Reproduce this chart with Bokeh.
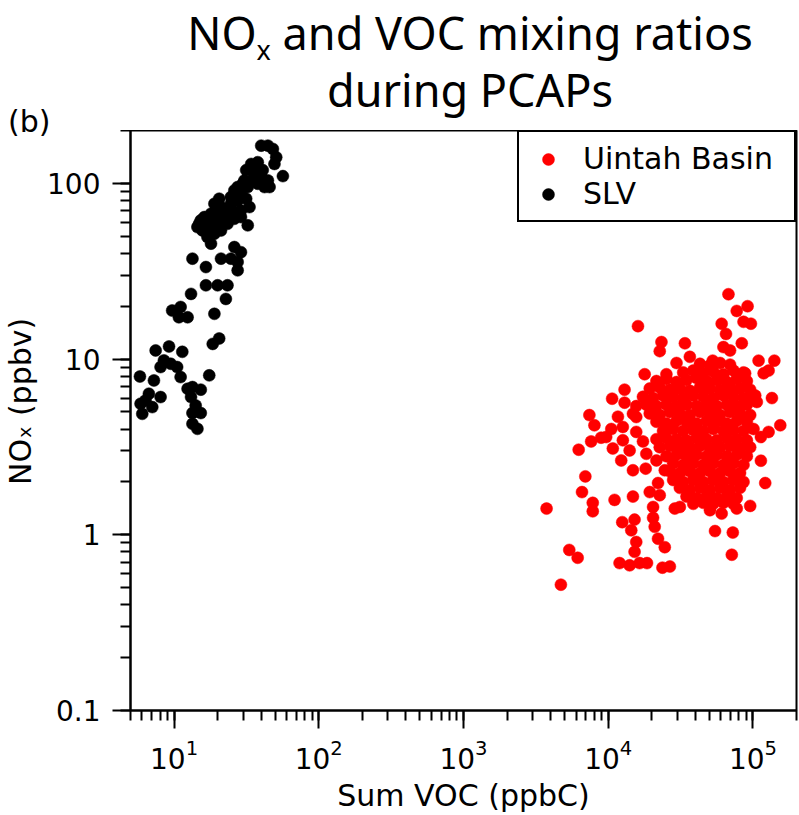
from bokeh.plotting import figure
from bokeh.layouts import column
from bokeh.models import (Range1d, Legend, LegendItem, CustomJSTickFormatter,
                          ColumnDataSource, Div)
from bokeh.embed import file_html
from bokeh.resources import INLINE

# ---------------- data ----------------
slv_voc = [40.0, 44.5, 48.2, 50.8, 49.4, 56.5, 37.9, 34.1, 31.5, 35.9, 40.0, 44.5, 42.2, 45.7,
           30.6, 32.3, 29.0, 27.5, 31.5, 33.2, 29.0, 26.1, 24.7, 20.5, 23.4, 22.2, 20.0, 18.0,
           16.2, 15.3, 14.5, 16.2, 18.0, 20.0, 17.0, 18.0, 15.7, 32.3, 26.1, 29.0, 27.5, 24.7,
           21.1, 13.4, 16.6, 27.5, 16.6, 20.0, 23.4, 22.8, 13.1, 9.7, 11.1, 10.8, 12.4, 19.0,
           18.5, 20.5, 7.46, 9.23, 11.4, 8.51, 9.48, 8.07, 10.5, 11.1, 7.26, 5.81, 17.5, 12.4,
           13.4, 15.3, 13.1, 14.1, 15.3, 13.4, 14.5, 6.70, 6.35, 5.87, 6.03, 7.07, 8.07, 13.4,
           19.0, 21.1, 24.7, 26.1, 27.5, 29.8, 34.1, 35.9, 37.9, 41.0, 22.8, 20.5, 18.5, 16.6,
           14.9, 17.5, 19.0, 21.1, 23.4, 26.1, 29.0]
slv_nox = [164, 164, 157, 141, 129, 110, 132, 129, 119, 114, 109, 104, 95.3, 95.3,
           104, 95.3, 87.3, 80.0, 81.8, 73.3, 70.2, 68.7, 76.6, 81.8, 70.2, 64.3, 70.2, 67.2,
           64.3, 61.6, 56.4, 54.0, 56.4, 58.9, 49.5, 45.4, 54.0, 57.7, 43.4, 40.6, 35.7, 37.3,
           37.3, 37.3, 33.4, 32.0, 26.3, 26.3, 26.3, 22.0, 23.5, 18.9, 19.8, 17.3, 17.3, 18.1,
           12.2, 13.1, 11.2, 11.8, 11.0, 9.83, 9.41, 9.01, 9.01, 7.90, 7.56, 7.96, 8.08, 6.78,
           6.93, 6.70, 6.08, 5.45, 4.93, 4.28, 4.01, 6.35, 5.82, 5.57, 4.88, 5.33, 6.08, 4.93,
           76.6, 73.3, 83.6, 91.2, 95.3, 99.5, 104, 121, 99.5, 119, 67.2, 62.9, 60.2, 58.9,
           58.9, 54.0, 51.7, 54.0, 58.9, 62.9, 64.3]

uintah_voc = [
    # scattered points around the cloud
    67750, 77270, 91830, 86100, 96830, 60810, 65160, 16060, 83750, 23330, 22700, 33880,
    62520, 69500, 109400, 140600, 118600, 128300, 88310, 52720, 36650, 29650, 17860, 25240,
    12970, 10640, 12970, 135300, 103700, 106400, 154500, 128300, 113500, 7410, 8030, 11670,
    10500, 9680, 7620, 6250, 15620, 17380, 12620, 10760, 12300, 14820, 18150, 24600,
    113500, 121600, 95720, 6950, 6590, 7820, 7820, 11060, 14820, 19360, 22700, 22090,
    28840, 31260, 20420, 20420, 20950, 12500, 15210, 14430, 15620, 15210, 22090, 24600,
    11980, 14060, 16480, 18540, 23700, 26670, 54700, 72600, 71450, 5380, 6150, 4710,
    3750, 50470, 60810, 77270, 15620, 14820, 14060, 18340, 21530, 12620, 8930,
    # dense core
    43050, 50470, 59290, 69500,
    32960, 38700, 45400, 53210, 62520, 73280, 86100,
    21530, 25240, 29650, 34750, 40830, 47860, 56200, 65920, 77270, 90780,
    19360, 22700, 26670, 31260, 36650, 43050, 50470, 59290, 69500, 81470, 95720,
    17380, 20420, 23930, 28100, 32960, 38700, 45400, 53210, 62520, 73280, 86100, 100900,
    15620, 18340, 21530, 25240, 29650, 34750, 40830, 47860, 56200, 65920, 77270, 90780,
    19360, 22700, 26670, 31260, 36650, 43050, 50470, 59290, 69500, 81470, 95720,
    21530, 25240, 29650, 34750, 40830, 47860, 56200, 65920, 77270, 90780,
    23930, 28100, 32960, 38700, 45400, 53210, 62520, 73280, 86100, 100900,
    21530, 25240, 29650, 34750, 40830, 47860, 56200, 65920, 77270, 90780,
    22700, 26670, 31260, 36650, 43050, 50470, 59290, 69500, 81470, 95720,
    25240, 29650, 34750, 40830, 47860, 56200, 65920, 77270, 90780,
    28100, 32960, 38700, 45400, 53210, 62520, 73280, 86100,
    26670, 31260, 36650, 43050, 50470, 59290, 69500, 81470,
    28100, 32960, 38700, 45400, 53210, 62520, 73280, 86100,
    31260, 36650, 43050, 50470, 59290, 69500, 81470,
    34750, 40830, 47860, 56200, 65920, 77270,
    38700, 45400, 53210, 62520, 73280,
]
uintah_nox = [
    23.4, 18.8, 20.0, 16.3, 15.9, 15.9, 13.9, 15.4, 12.3, 12.5, 11.1, 12.3,
    11.7, 11.2, 9.8, 9.8, 8.3, 8.6, 8.3, 9.8, 10.3, 9.5, 8.2, 8.2,
    6.7, 5.95, 5.65, 6.0, 6.2, 5.7, 4.2, 3.85, 3.6, 4.8, 4.2, 4.7,
    4.0, 3.6, 3.4, 3.05, 3.85, 3.4, 3.45, 3.1, 2.65, 2.33, 2.38, 2.33,
    2.64, 1.97, 1.46, 2.15, 1.75, 1.52, 1.36, 1.58, 1.65, 1.75, 1.68, 1.97,
    1.41, 1.44, 1.44, 1.25, 1.11, 1.18, 1.22, 1.06, 0.91, 0.80, 0.95, 0.85,
    0.69, 0.67, 0.69, 0.69, 0.65, 0.66, 1.05, 1.03, 0.77, 0.82, 0.74, 0.52,
    1.41, 1.38, 1.32, 1.41, 4.68, 4.89, 3.02, 2.89, 2.65, 4.11, 3.57,
    9.4, 9.2, 9.5, 9.3,
    8.4, 8.6, 8.3, 8.5, 8.2, 8.6, 8.4,
    7.5, 7.7, 7.4, 7.6, 7.8, 7.5, 7.6, 7.4, 7.7, 7.5,
    6.8, 6.9, 6.7, 6.8, 6.6, 6.9, 6.8, 6.7, 6.9, 6.8, 6.7,
    6.1, 6.0, 6.2, 6.1, 6.0, 6.2, 6.1, 6.0, 6.2, 6.1, 6.0, 6.1,
    5.4, 5.5, 5.4, 5.5, 5.4, 5.5, 5.4, 5.5, 5.4, 5.5, 5.4, 5.5,
    4.9, 4.8, 5.0, 4.9, 4.8, 5.0, 4.9, 4.8, 5.0, 4.9, 4.8,
    4.4, 4.3, 4.45, 4.4, 4.3, 4.45, 4.4, 4.3, 4.45, 4.4,
    3.9, 4.0, 3.9, 3.95, 3.9, 4.0, 3.9, 3.95, 3.9, 4.0,
    3.5, 3.55, 3.5, 3.45, 3.55, 3.5, 3.45, 3.55, 3.5, 3.45,
    3.15, 3.2, 3.1, 3.15, 3.2, 3.1, 3.15, 3.2, 3.1, 3.15,
    2.8, 2.85, 2.8, 2.85, 2.8, 2.85, 2.8, 2.85, 2.8,
    2.55, 2.5, 2.55, 2.5, 2.55, 2.5, 2.55, 2.5,
    2.3, 2.25, 2.3, 2.25, 2.3, 2.25, 2.3, 2.25,
    2.05, 2.0, 2.05, 2.0, 2.05, 2.0, 2.05, 2.0,
    1.85, 1.8, 1.85, 1.8, 1.85, 1.8, 1.85,
    1.65, 1.62, 1.65, 1.62, 1.65, 1.62,
    1.5, 1.52, 1.5, 1.52, 1.5,
]

series_names = ["Uintah Basin", "SLV"]
series_colors = ["#ff0000", "#000000"]

x_label = "Sum VOC (ppbC)"
y_label = "\u00a0\u00a0\u00a0\u00a0NO\u2093 (ppbv)"
title_line1 = ("NO", "x", " and VOC mixing ratios")
title_line2 = "during PCAPs"
panel_tag = "(b)"

# ---------------- title block (HTML, for the subscript) ----------------
title_html = (
    '<div style="position:relative;width:799px;height:130px;color:black;overflow:visible;">'
    '<div style="position:absolute;left:141px;top:8px;width:658px;text-align:center;'
    'font-family:\'Noto Sans\';font-size:45px;line-height:50px;white-space:nowrap;">'
    f'{title_line1[0]}<span style="font-size:27px;position:relative;top:10px;">{title_line1[1]}</span>'
    f'{title_line1[2]}<br>{title_line2}</div>'
    '<div style="position:absolute;left:8px;top:107px;font-family:\'DejaVu Sans\';'
    f'font-size:30px;line-height:30px;white-space:nowrap;">{panel_tag}</div>'
    '</div>'
)
title_div = Div(text=title_html, width=799, height=130, margin=(0, 0, 0, 0),
                styles={"overflow": "visible", "z-index": "10", "position": "relative"})

# ---------------- figure ----------------
p = figure(width=799, height=685, x_axis_type="log", y_axis_type="log",
           x_range=Range1d(5, 2e5), y_range=Range1d(0.1, 200),
           output_backend="svg", toolbar_location=None,
           min_border_left=130, min_border_right=3, min_border_top=0, min_border_bottom=105)
p.margin = (0, 0, 0, 0)
p.background_fill_color = "white"
p.border_fill_color = "white"
p.outline_line_color = "black"
p.outline_line_width = 2
p.xgrid.grid_line_color = None
p.ygrid.grid_line_color = None

src_u = ColumnDataSource(dict(x=uintah_voc, y=uintah_nox))
src_s = ColumnDataSource(dict(x=slv_voc, y=slv_nox))
r_u = p.scatter("x", "y", source=src_u, size=12, fill_color=series_colors[0],
                line_color=series_colors[0], line_width=0.5)
r_s = p.scatter("x", "y", source=src_s, size=12, fill_color=series_colors[1],
                line_color=series_colors[1], line_width=0.5)

for ax in (p.xaxis[0], p.yaxis[0]):
    ax.axis_line_width = 2
    ax.axis_line_color = "black"
    ax.major_tick_line_width = 2
    ax.minor_tick_line_width = 2
    ax.major_tick_line_color = "black"
    ax.minor_tick_line_color = "black"
    ax.major_tick_out = 18
    ax.major_tick_in = 0
    ax.minor_tick_out = 10
    ax.minor_tick_in = 0
    ax.major_label_text_font = "DejaVu Sans"
    ax.major_label_text_font_size = "28px"
    ax.major_label_text_color = "black"
    ax.axis_label_text_font = "DejaVu Sans"
    ax.axis_label_text_font_size = "30px"
    ax.axis_label_text_font_style = "normal"
    ax.axis_label_text_color = "black"

p.xaxis.axis_label = x_label
p.yaxis.axis_label = y_label
p.xaxis.major_label_standoff = 10
p.yaxis.major_label_standoff = 12
p.xaxis.axis_label_standoff = 6
p.yaxis.axis_label_standoff = 6
p.yaxis.formatter = CustomJSTickFormatter(code="return tick < 1 ? tick.toFixed(1) : tick.toFixed(0);")

legend = Legend(items=[LegendItem(label=series_names[0], renderers=[r_u]),
                       LegendItem(label=series_names[1], renderers=[r_s])],
                location="top_right")
legend.margin = 0
legend.padding = 9
legend.spacing = 0
legend.border_line_color = "black"
legend.border_line_alpha = 1
legend.border_line_width = 2
legend.label_text_font = "DejaVu Sans"
legend.label_text_font_size = "30px"
legend.label_text_color = "black"
legend.label_standoff = 15
legend.glyph_width = 40
legend.glyph_height = 30
legend.label_height = 30
legend.label_width = 202
legend.background_fill_alpha = 1
p.add_layout(legend, "center")

layout = column(title_div, p, spacing=0)
open("out.html", "w").write(file_html(layout, INLINE))
